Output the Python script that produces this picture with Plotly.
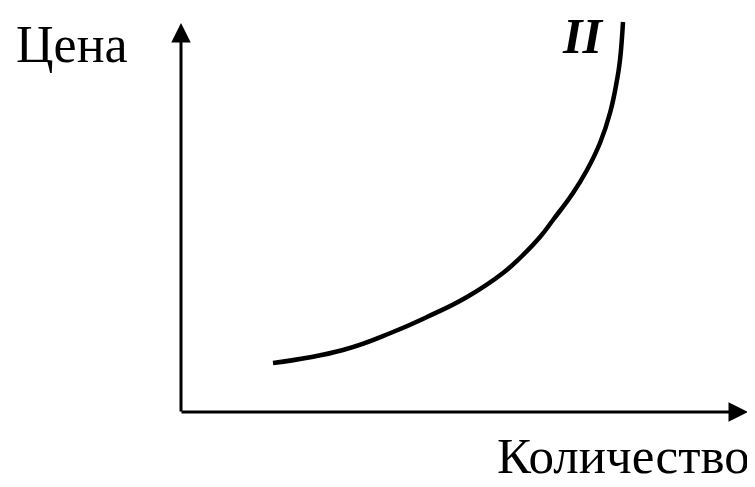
import plotly.graph_objects as go

# Supply curve II (quantity, price) in arbitrary units
quantity = [92, 162, 212, 246, 286, 322, 340, 359, 372, 392, 406, 419, 429, 436, 439, 442]
price = [49, 62, 80, 95, 115, 139, 155, 175, 192, 219, 242, 269, 299, 332, 352, 390]

x_axis_label = "Количество"
y_axis_label = "Цена"
curve_label = "II"

x_axis_end = 567
y_axis_end = 389

fig = go.Figure()
fig.add_trace(go.Scatter(x=quantity, y=price, mode="lines",
                         line=dict(color="black", width=4.5, shape="spline", smoothing=1.3),
                         hoverinfo="skip", showlegend=False))

FONT = "Liberation Serif"
# axes with arrows
fig.add_annotation(x=x_axis_end, y=0, ax=-1, ay=0, xref="x", yref="y", axref="x", ayref="y",
                   showarrow=True, arrowhead=2, arrowsize=1.3, arrowwidth=3, arrowcolor="black", text="")
fig.add_annotation(x=0, y=y_axis_end, ax=0, ay=-1, xref="x", yref="y", axref="x", ayref="y",
                   showarrow=True, arrowhead=2, arrowsize=1.3, arrowwidth=3, arrowcolor="black", text="")

fig.add_annotation(x=-167, y=368, xref="x", yref="y", text=y_axis_label, showarrow=False,
                   xanchor="left", yanchor="middle", font=dict(family=FONT, size=52, color="black"))
fig.add_annotation(x=570, y=-44, xref="x", yref="y", text=x_axis_label, showarrow=False,
                   xanchor="right", yanchor="middle", borderpad=0,
                   font=dict(family=FONT, size=51, color="black"))
fig.add_annotation(x=401, y=376, xref="x", yref="y", text="<i><b>" + curve_label + "</b></i>", showarrow=False,
                   xanchor="center", yanchor="middle", font=dict(family=FONT, size=50, color="black"))

fig.update_layout(width=755, height=487, margin=dict(l=0, r=0, t=0, b=0),
                  plot_bgcolor="white", paper_bgcolor="white",
                  xaxis=dict(range=[-173, 582], visible=False, fixedrange=True),
                  yaxis=dict(range=[-83, 404], visible=False, fixedrange=True))
fig.write_html("out.html")
